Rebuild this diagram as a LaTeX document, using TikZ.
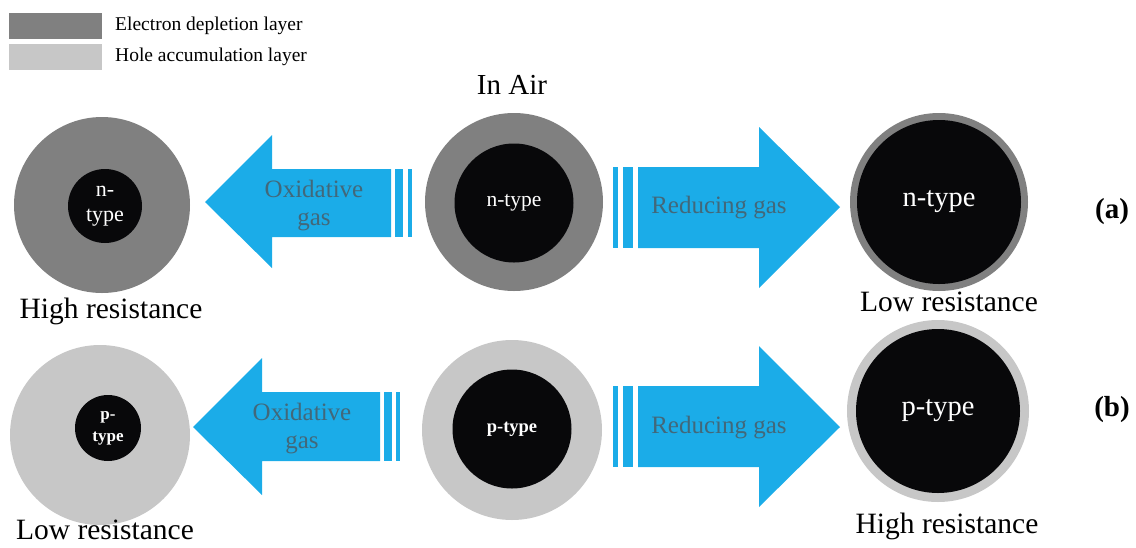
\documentclass[tikz,border=0pt]{standalone}
\usepackage{fontspec}
\setmainfont{Liberation Serif}
\definecolor{depl}{RGB}{128,128,128}
\definecolor{accu}{RGB}{199,199,199}
\definecolor{core}{RGB}{8,8,10}
\definecolor{gasblue}{RGB}{27,172,232}
\definecolor{gastext}{RGB}{66,104,122}
\newcommand\fsz[1]{\fontsize{#1}{#1}\selectfont}
\tikzset{
  shell/.style={circle, inner sep=0pt, outer sep=0pt},
  grain/.style={circle, fill=core, inner sep=0pt, outer sep=0pt, text=white, align=center},
  gas/.style={fill=gasblue},
  gaslabel/.style={text=gastext, align=center, font=\fsz{25}, inner sep=0pt},
  reslabel/.style={font=\fsz{29.5}, inner sep=0pt},
  legtext/.style={font=\fsz{19.5}, anchor=west, inner sep=0pt},
  panel/.style={font=\fsz{29}\bfseries, inner sep=0pt},
}
\begin{document}
\begin{tikzpicture}[x=1pt, y=-1pt]
\useasboundingbox (0,0) rectangle (1136,547);

% legend
\fill[depl] (9,13) rectangle (102,39);
\fill[accu] (9,44) rectangle (102,70);
\node[legtext] (legA) at (115,26) {Electron depletion layer};
\node[legtext] (legB) at (115,57) {Hole accumulation layer};

\node[font=\fsz{29}, inner sep=0pt] (air) at (512,85) {In Air};

% ---- row (a): n-type ----
\node[shell, fill=depl, minimum size=176pt] (a1o) at (102,205) {};
\node[grain, minimum size=74pt, font=\fsz{22}] (a1) at (105,206) {n-\\[3pt]type};

\node[shell, fill=depl, minimum size=178pt] (a2o) at (514,202) {};
\node[grain, minimum size=119pt, font=\fsz{21.5}] (a2) at (514,203) {n-type};

\node[shell, fill=depl, minimum size=178pt] (a3o) at (939,202) {};
\node[grain, minimum size=164pt, font=\fsz{28.5}] (a3) at (939,202) {n-type};

% oxidative gas arrow (a)
\fill[gas] (205,202) -- (272,135) -- (272,169) -- (391,169) -- (391,237)
  -- (272,237) -- (272,268) -- cycle;
\fill[gas] (395,169) rectangle (403,237);
\fill[gas] (408,169) rectangle (412,237);
\node[gaslabel] (oxa) at (314,206) {Oxidative\\[3pt]gas};

% reducing gas arrow (a)
\fill[gas] (613,167) rectangle (618,248);
\fill[gas] (623,167) rectangle (633,248);
\fill[gas] (638,167) -- (759,167) -- (759,127) -- (840,207) -- (759,288)
  -- (759,248) -- (638,248) -- cycle;
\node[gaslabel] (rda) at (719,208) {Reducing gas};

\node[reslabel] (ra1) at (111,311) {High resistance};
\node[reslabel] (ra3) at (949,302) {Low resistance};
\node[panel] (pa) at (1112,212) {(a)};

% ---- row (b): p-type ----
\node[shell, fill=accu, minimum size=180pt] (b1o) at (100,435) {};
\node[grain, minimum size=66pt, font=\fsz{17}\bfseries] (b1) at (108,428) {p-\\[5pt]type};

\node[shell, fill=accu, minimum size=180pt] (b2o) at (512,430) {};
\node[grain, minimum size=119pt, font=\fsz{18.5}\bfseries] (b2) at (512,429) {p-type};

\node[shell, fill=accu, minimum size=182pt] (b3o) at (938,411) {};
\node[grain, minimum size=164pt, font=\fsz{28.5}] (b3) at (938,411) {p-type};

% oxidative gas arrow (b)
\fill[gas] (193,427) -- (262,358) -- (262,392) -- (380,392) -- (380,461)
  -- (262,461) -- (262,495) -- cycle;
\fill[gas] (384,392) rectangle (392,461);
\fill[gas] (396,392) rectangle (400,461);
\node[gaslabel] (oxb) at (302,429) {Oxidative\\[3pt]gas};

% reducing gas arrow (b)
\fill[gas] (613,386) rectangle (618,467);
\fill[gas] (623,386) rectangle (633,467);
\fill[gas] (638,386) -- (759,386) -- (759,346) -- (840,427) -- (759,507)
  -- (759,467) -- (638,467) -- cycle;
\node[gaslabel] (rdb) at (719,428) {Reducing gas};

\node[reslabel] (rb1) at (105,530) {Low resistance};
\node[reslabel] (rb3) at (947,526) {High resistance};
\node[panel] (pb) at (1112,410) {(b)};
\end{tikzpicture}
\end{document}
